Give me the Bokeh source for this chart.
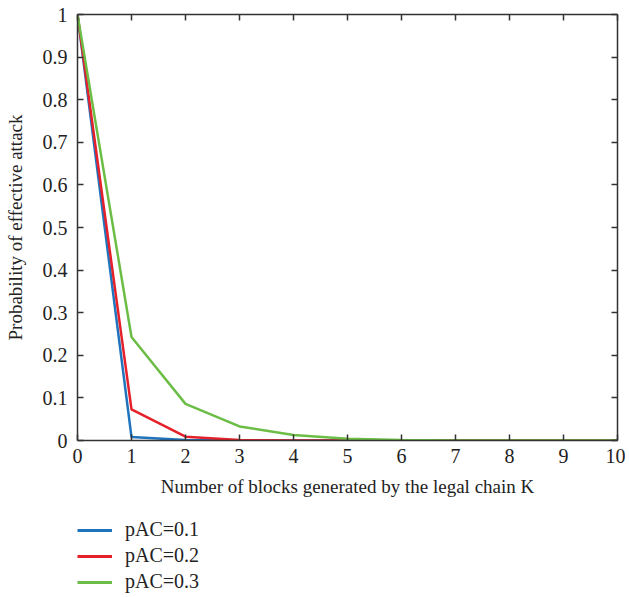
from bokeh.plotting import figure
from bokeh.layouts import column
from bokeh.models import FixedTicker, LinearAxis, Legend, LegendItem, Range1d
from bokeh.embed import file_html
from bokeh.resources import INLINE

K = [0, 1, 2, 3, 4, 5, 6, 7, 8, 9, 10]
p_01 = [1.0, 0.008, 0.001, 0.0, 0.0, 0.0, 0.0, 0.0, 0.0, 0.0, 0.0]
p_02 = [1.0, 0.073, 0.009, 0.001, 0.0, 0.0, 0.0, 0.0, 0.0, 0.0, 0.0]
p_03 = [1.0, 0.243, 0.086, 0.033, 0.013, 0.004, 0.001, 0.0, 0.0, 0.0, 0.0]
series_labels = ["pAC=0.1", "pAC=0.2", "pAC=0.3"]
series_colors = ["#1f74bd", "#e5202a", "#6cbd45"]

x_ticks = [0, 1, 2, 3, 4, 5, 6, 7, 8, 9, 10]
y_ticks = [0, 0.1, 0.2, 0.3, 0.4, 0.5, 0.6, 0.7, 0.8, 0.9, 1]
y_tick_labels = ["0", "0.1", "0.2", "0.3", "0.4", "0.5", "0.6", "0.7", "0.8", "0.9", "1"]

FONT = "Liberation Serif"
AX = "#333333"

p = figure(width=625, height=505, output_backend="svg", toolbar_location=None,
           x_range=Range1d(0, 10), y_range=Range1d(0, 1),
           min_border_left=77, min_border_right=8, min_border_top=14, min_border_bottom=65,
           x_axis_label="Number of blocks generated by the legal chain K",
           y_axis_label="Probability of effective attack")
p.grid.visible = False
p.outline_line_color = None
p.background_fill_color = "white"
p.border_fill_color = "white"

p.xaxis.ticker = FixedTicker(ticks=x_ticks)
p.yaxis.ticker = FixedTicker(ticks=y_ticks)
p.yaxis.major_label_overrides = {t: l for t, l in zip(y_ticks, y_tick_labels)}

for ax in [p.xaxis[0], p.yaxis[0]]:
    ax.axis_line_color = AX
    ax.axis_line_width = 1.5
    ax.major_tick_line_color = AX
    ax.major_tick_line_width = 1.5
    ax.major_tick_in = 6
    ax.major_tick_out = 0
    ax.minor_tick_line_color = None
    ax.major_label_text_font = FONT
    ax.major_label_text_font_size = "20px"
    ax.major_label_text_color = "#222222"
    ax.axis_label_text_font = FONT
    ax.axis_label_text_font_size = "19px"
    ax.axis_label_text_font_style = "normal"
    ax.axis_label_text_color = "#222222"

p.xaxis.major_label_standoff = 8
p.xaxis.axis_label_standoff = 10
p.yaxis.major_label_standoff = 10
p.yaxis.axis_label_standoff = 14

for side, tick in [("right", y_ticks), ("above", x_ticks)]:
    ax = LinearAxis(ticker=FixedTicker(ticks=tick))
    ax.axis_line_color = AX
    ax.axis_line_width = 1.5
    ax.major_tick_line_color = AX
    ax.major_tick_line_width = 1.5
    ax.major_tick_in = 6
    ax.major_tick_out = 0
    ax.minor_tick_line_color = None
    ax.major_label_overrides = {t: "" for t in tick}
    ax.major_label_text_font_size = "1px"
    ax.major_label_standoff = 0
    p.add_layout(ax, side)

for ys, col in zip([p_01, p_02, p_03], series_colors):
    p.line(K, ys, line_color=col, line_width=2.5)

# legend panel below the chart (series drawn outside its visible range, only the legend shows)
lg = figure(width=625, height=90, output_backend="svg", toolbar_location=None,
            x_range=Range1d(0, 10), y_range=Range1d(5, 6),
            min_border_left=77, min_border_right=8, min_border_top=0, min_border_bottom=0)
lg.axis.visible = False
lg.grid.visible = False
lg.outline_line_color = None
lg.border_fill_color = "white"
lg.background_fill_color = "white"
items = []
for ys, lab, col in zip([p_01, p_02, p_03], series_labels, series_colors):
    r = lg.line(K, ys, line_color=col, line_width=3)
    items.append(LegendItem(label=lab, renderers=[r]))

legend = Legend(items=items, location=(0, 2), orientation="vertical",
                glyph_width=35, glyph_height=20, label_height=20, label_standoff=13, spacing=3,
                padding=0, margin=0, border_line_color=None, background_fill_alpha=0,
                label_text_font=FONT, label_text_font_size="20px", label_text_color="#222222")
lg.add_layout(legend, "center")

layout = column(p, lg, spacing=0)
open("out.html", "w").write(file_html(layout, INLINE))
